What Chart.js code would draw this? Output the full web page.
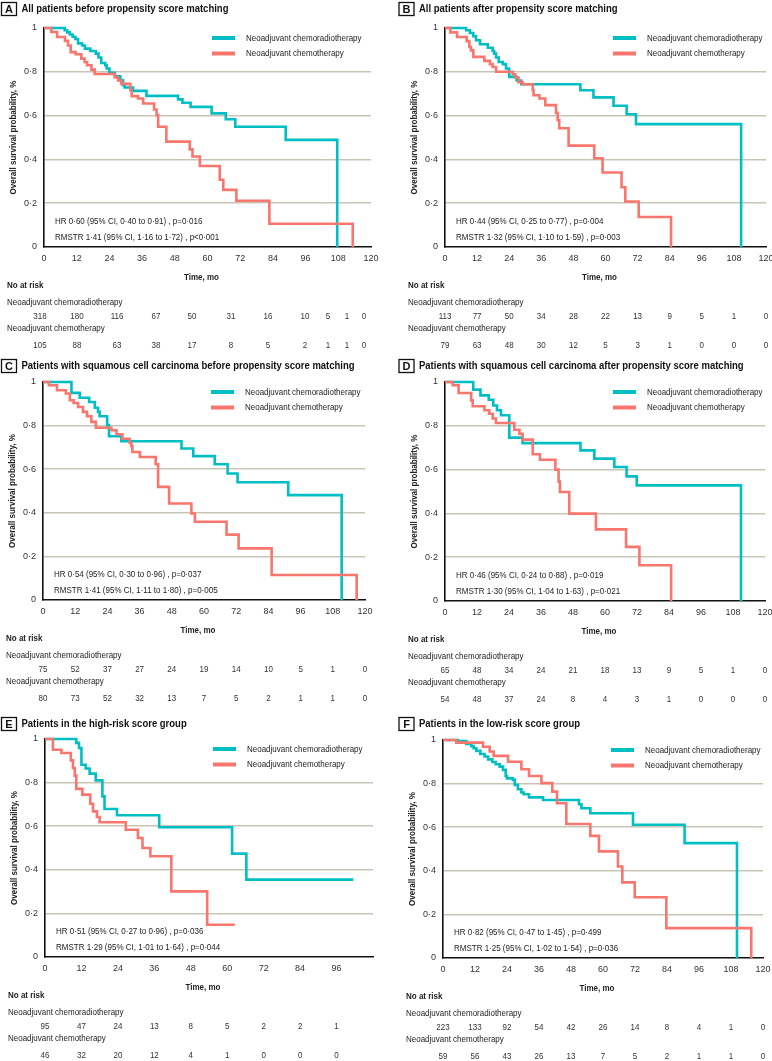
<!DOCTYPE html>
<html>
<head>
<meta charset="utf-8">
<script src="https://cdn.jsdelivr.net/npm/chart.js@4.4.1/dist/chart.umd.min.js"></script>
<style>
  body { margin: 0; background: #fff; }
  #wrap { position: relative; width: 772px; height: 1061px; overflow: hidden; }
  #wrap canvas { position: absolute; }
</style>
</head>
<body>
<div id="wrap"></div>
<script>
// series names + at-risk time columns
const groups = ['Neoadjuvant chemoradiotherapy', 'Neoadjuvant chemotherapy'];
const riskTimes = [0, 12, 24, 36, 48, 60, 72, 84, 96, 108, 120];

// A - all patients before psm
const timeA_crt = [0, 7.6, 8.5, 9.5, 10.5, 11.5, 12.5, 14, 15, 17, 19, 20, 21, 22.5, 23, 24, 26, 28, 29, 29.6, 32.7, 37.6, 49.2, 50.8, 53.8, 61.5, 66.7, 70.2, 88.7, 107.6];
const survA_crt = [1, 0.99, 0.98, 0.97, 0.96, 0.95, 0.93, 0.92, 0.906, 0.895, 0.883, 0.865, 0.84, 0.83, 0.815, 0.795, 0.78, 0.762, 0.739, 0.728, 0.713, 0.69, 0.674, 0.659, 0.64, 0.61, 0.583, 0.549, 0.489, 0];
const timeA_ct = [0, 2.7, 4.8, 7.7, 8.8, 9.8, 11.6, 13.7, 14.9, 15.8, 17.4, 18.6, 26, 27.2, 28.4, 31.7, 32.2, 34.5, 36.4, 40.4, 41.3, 41.9, 44.9, 53.5, 54.5, 57.2, 64.5, 65.8, 70.6, 82.7, 113.3];
const survA_ct = [1, 0.982, 0.959, 0.941, 0.92, 0.89, 0.88, 0.86, 0.845, 0.83, 0.81, 0.79, 0.774, 0.76, 0.745, 0.716, 0.689, 0.678, 0.655, 0.628, 0.602, 0.549, 0.481, 0.446, 0.413, 0.37, 0.307, 0.261, 0.211, 0.106, 0];
const riskA_crt = [318, 180, 116, 67, 50, 31, 16, 10, 5, 1, 0];
const riskA_ct = [105, 88, 63, 38, 17, 8, 5, 2, 1, 1, 0];

// B - all patients after psm
const timeB_crt = [0, 7.9, 9.3, 10.6, 11.6, 13.1, 16, 17.8, 18.4, 19.1, 20.1, 21.6, 22.8, 24, 26.8, 28.5, 50.6, 55.5, 63, 67.9, 71.4, 110.7];
const survB_crt = [1, 0.99, 0.977, 0.962, 0.944, 0.926, 0.91, 0.895, 0.883, 0.865, 0.845, 0.835, 0.815, 0.777, 0.76, 0.743, 0.716, 0.683, 0.645, 0.606, 0.561, 0];
const timeB_ct = [0, 2, 4.5, 8.1, 9.1, 9.7, 10.6, 14.7, 16.8, 17.8, 19.1, 25.3, 26.3, 27.5, 29, 32.8, 33.1, 35.3, 37.5, 41.5, 42.1, 42.7, 46.2, 55.8, 58.9, 66, 67.4, 72.4, 84.5];
const survB_ct = [1, 0.98, 0.959, 0.94, 0.913, 0.898, 0.868, 0.85, 0.835, 0.822, 0.8, 0.789, 0.774, 0.753, 0.743, 0.716, 0.693, 0.678, 0.648, 0.613, 0.58, 0.542, 0.463, 0.405, 0.34, 0.273, 0.208, 0.137, 0];
const riskB_crt = [113, 77, 50, 34, 28, 22, 13, 9, 5, 1, 0];
const riskB_ct = [79, 63, 48, 30, 12, 5, 3, 1, 0, 0, 0];

// C - squamous before psm
const timeC_crt = [0, 10.6, 13.7, 17.2, 19.3, 20.5, 21.1, 23.9, 24.6, 29.2, 51.6, 56, 64, 68.8, 72.5, 91.4, 111.3];
const survC_crt = [1, 0.95, 0.928, 0.908, 0.882, 0.863, 0.843, 0.802, 0.751, 0.728, 0.695, 0.66, 0.623, 0.58, 0.54, 0.481, 0];
const timeC_ct = [0, 2.2, 5.2, 8.5, 10, 11.4, 13.1, 14.9, 16.4, 18, 19.7, 25.5, 27.4, 29.6, 32.3, 32.9, 33.3, 36.1, 42, 42.9, 47, 55.3, 56.6, 68.4, 72.9, 85.2, 116.9];
const survC_ct = [1, 0.985, 0.962, 0.947, 0.916, 0.904, 0.885, 0.863, 0.843, 0.817, 0.79, 0.779, 0.76, 0.74, 0.72, 0.707, 0.679, 0.656, 0.623, 0.519, 0.443, 0.397, 0.359, 0.3, 0.237, 0.115, 0];
const riskC_crt = [75, 52, 37, 27, 24, 19, 14, 10, 5, 1, 0];
const riskC_ct = [80, 73, 52, 32, 13, 7, 5, 2, 1, 1, 0];

// D - squamous after psm
const timeD_crt = [0, 10.6, 13.3, 16.4, 18.1, 19.5, 21, 24.1, 29.1, 50.8, 56, 63.5, 68.1, 71.9, 111];
const survD_crt = [1, 0.965, 0.939, 0.919, 0.893, 0.871, 0.848, 0.746, 0.721, 0.688, 0.65, 0.612, 0.569, 0.528, 0];
const timeD_ct = [0, 2.9, 5.1, 9.8, 10.4, 14.8, 16.6, 17.9, 19.1, 26, 27.9, 29.1, 32.9, 35.6, 41.4, 42.6, 43.1, 46.6, 56.6, 67.9, 72.9, 84.8];
const survD_ct = [1, 0.985, 0.95, 0.916, 0.889, 0.871, 0.855, 0.833, 0.813, 0.782, 0.764, 0.737, 0.67, 0.645, 0.6, 0.545, 0.498, 0.399, 0.327, 0.247, 0.163, 0];
const riskD_crt = [65, 48, 34, 24, 21, 18, 13, 9, 5, 1, 0];
const riskD_ct = [54, 48, 37, 24, 8, 4, 3, 1, 0, 0, 0];

// E - high-risk score group
const timeE_crt = [0, 10.3, 11.2, 12, 13.4, 14.7, 16.7, 18.9, 19.6, 23.7, 37.6, 61.6, 66.3, 101.5];
const survE_crt = [1, 0.982, 0.959, 0.882, 0.865, 0.841, 0.81, 0.737, 0.679, 0.65, 0.595, 0.474, 0.355, 0.355];
const timeE_ct = [0, 2.6, 5.4, 8.5, 9.2, 9.8, 10.3, 12.3, 14.9, 15.8, 17.1, 18, 26.6, 30.6, 32.1, 34.7, 41.6, 53.4, 62.5];
const survE_ct = [1, 0.951, 0.936, 0.902, 0.867, 0.832, 0.771, 0.745, 0.703, 0.668, 0.642, 0.618, 0.584, 0.546, 0.5, 0.462, 0.301, 0.148, 0.148];
const riskE_crt = [95, 47, 24, 13, 8, 5, 2, 2, 1];
const riskE_ct = [46, 32, 20, 12, 4, 1, 0, 0, 0];

// F - low-risk score group
const timeF_crt = [0, 5.6, 8.75, 10.6, 11.5, 12.5, 14, 15.6, 16.9, 18.5, 19.75, 21.25, 22.5, 23.5, 24, 26.25, 26.9, 28.1, 29.4, 30.25, 32.25, 37.5, 51, 51.9, 55.25, 71.25, 90.6, 110.25];
const survF_crt = [1, 0.995, 0.982, 0.972, 0.962, 0.95, 0.936, 0.924, 0.911, 0.899, 0.889, 0.878, 0.863, 0.835, 0.824, 0.817, 0.794, 0.774, 0.759, 0.751, 0.737, 0.725, 0.705, 0.687, 0.664, 0.611, 0.527, 0];
const timeF_ct = [0, 5, 15, 17.5, 19, 24.4, 29.4, 32.25, 36.9, 41, 42.75, 46.25, 55.25, 58.5, 65.6, 67.25, 71.9, 83.75, 115.6];
const survF_ct = [1, 0.988, 0.969, 0.947, 0.927, 0.9, 0.866, 0.835, 0.802, 0.763, 0.71, 0.615, 0.56, 0.489, 0.42, 0.347, 0.279, 0.137, 0];
const riskF_crt = [223, 133, 92, 54, 42, 26, 14, 8, 4, 1, 0];
const riskF_ct = [59, 56, 43, 26, 13, 7, 5, 2, 1, 1, 0];

const TEAL = '#00BFC4';
const RED = '#F8766D';
const GRID = '#C9C5B6';
const FONT = '"Liberation Sans", Arial, Helvetica, sans-serif';
const SX = 0.86; // text in the figure is a bit narrower than arial
const CANVAS_H = 362; // canvases overlap a little, background is transparent

// panel layout (page px)
const panels = [
  { tag: 'A', title: 'All patients before propensity score matching', x: 0, y: 0, titleY: 9,
    area: { left: 44, right: 371, top: 28, bottom: 247 }, xMax: 120, tickMax: 120,
    crt: [timeA_crt, survA_crt], ct: [timeA_ct, survA_ct], risk: [riskA_crt, riskA_ct],
    riskX: [-4, 33, 73, 112, 148, 187, 224, 261, 284, 303, 320], // this table is not spaced like the ticks
    stats: ['HR 0·60 (95% CI, 0·40 to 0·91) , p=0·016', 'RMSTR 1·41 (95% CI, 1·16 to 1·72) , p<0·001'] },
  { tag: 'B', title: 'All patients after propensity score matching', x: 386, y: 0, titleY: 9,
    area: { left: 445, right: 766, top: 28, bottom: 247 }, xMax: 120, tickMax: 120,
    crt: [timeB_crt, survB_crt], ct: [timeB_ct, survB_ct], risk: [riskB_crt, riskB_ct],
    stats: ['HR 0·44 (95% CI, 0·25 to 0·77) , p=0·004', 'RMSTR 1·32 (95% CI, 1·10 to 1·59) , p=0·003'] },
  { tag: 'C', title: 'Patients with squamous cell carcinoma before propensity score matching', x: 0, y: 350, titleY: 366,
    area: { left: 43, right: 365, top: 382, bottom: 600 }, xMax: 120, tickMax: 120,
    crt: [timeC_crt, survC_crt], ct: [timeC_ct, survC_ct], risk: [riskC_crt, riskC_ct],
    stats: ['HR 0·54 (95% CI, 0·30 to 0·96) , p=0·037', 'RMSTR 1·41 (95% CI, 1·11 to 1·80) , p=0·005'] },
  { tag: 'D', title: 'Patients with squamous cell carcinoma after propensity score matching', x: 386, y: 350, titleY: 366,
    area: { left: 445, right: 765, top: 382, bottom: 601 }, xMax: 120, tickMax: 120,
    crt: [timeD_crt, survD_crt], ct: [timeD_ct, survD_ct], risk: [riskD_crt, riskD_ct],
    stats: ['HR 0·46 (95% CI, 0·24 to 0·88) , p=0·019', 'RMSTR 1·30 (95% CI, 1·04 to 1·63) , p=0·021'] },
  { tag: 'E', title: 'Patients in the high-risk score group', x: 0, y: 700, titleY: 724,
    area: { left: 45, right: 373, top: 739, bottom: 957 }, xMax: 108, tickMax: 96,
    crt: [timeE_crt, survE_crt], ct: [timeE_ct, survE_ct], risk: [riskE_crt, riskE_ct],
    stats: ['HR 0·51 (95% CI, 0·27 to 0·96) , p=0·036', 'RMSTR 1·29 (95% CI, 1·01 to 1·64) , p=0·044'] },
  { tag: 'F', title: 'Patients in the low-risk score group', x: 386, y: 700, titleY: 724,
    area: { left: 443, right: 763, top: 740, bottom: 958 }, xMax: 120, tickMax: 120,
    crt: [timeF_crt, survF_crt], ct: [timeF_ct, survF_ct], risk: [riskF_crt, riskF_ct],
    stats: ['HR 0·82 (95% CI, 0·47 to 1·45) , p=0·499', 'RMSTR 1·25 (95% CI, 1·02 to 1·54) , p=0·036'] }
];

function toPts(pair) { // [times, surv] -> points
  return pair[0].map((t, i) => ({ x: t, y: pair[1][i] }));
}

function txt(ctx, s, x, y, o) {
  ctx.save();
  ctx.font = (o.bold ? 'bold ' : '') + o.size + 'px ' + FONT;
  ctx.fillStyle = o.color || '#222';
  ctx.textBaseline = 'middle';
  ctx.textAlign = o.align || 'left';
  ctx.translate(x, y);
  if (o.rot) ctx.rotate(-Math.PI / 2);
  ctx.scale(o.sx || SX, 1);
  ctx.fillText(s, 0, 0);
  ctx.restore();
}

// everything that is not axes / curves
function panelText(p) {
  return {
    id: 'panelText' + p.tag,
    afterDraw(chart) {
      const ctx = chart.ctx;
      const ca = chart.chartArea;
      const xs = chart.scales.x;

      // title + letter box
      const bx = p.x === 0 ? 1.5 : 13;
      const ty = p.titleY - p.y;
      ctx.save();
      ctx.strokeStyle = '#111';
      ctx.lineWidth = 1.3;
      ctx.strokeRect(bx, ty - 6.5, 15, 13);
      ctx.restore();
      txt(ctx, p.tag, bx + 7.5, ty + 0.5, { size: 11, bold: true, align: 'center', sx: 1, color: '#111' });
      txt(ctx, p.title, bx + 20, ty, { size: 10, bold: true, sx: 0.95, color: '#111' });

      // y title
      txt(ctx, 'Overall survival probability, %', ca.left - 30, (ca.top + ca.bottom) / 2,
        { size: 9, bold: true, rot: true, align: 'center', sx: 0.89 });

      // legend
      [TEAL, RED].forEach((c, i) => {
        const ly = ca.top + 10 + i * 15.5;
        ctx.save();
        ctx.strokeStyle = c;
        ctx.lineWidth = 4;
        ctx.beginPath();
        ctx.moveTo(ca.left + 168, ly);
        ctx.lineTo(ca.left + 191, ly);
        ctx.stroke();
        ctx.restore();
        txt(ctx, groups[i], ca.left + 202, ly, { size: 9.3 });
      });

      // hr / rmstr
      txt(ctx, p.stats[0], ca.left + 11, ca.bottom - 26, { size: 9.3 });
      txt(ctx, p.stats[1], ca.left + 11, ca.bottom - 10, { size: 9.3 });

      // at-risk table
      const b = ca.bottom;
      txt(ctx, 'Time, mo', (ca.left + ca.right) / 2 - 6, b + 30, { size: 9.3, bold: true, align: 'center' });
      txt(ctx, 'No at risk', ca.left - 37, b + 38, { size: 9.3, bold: true });
      const rowY = [[b + 55, b + 69], [b + 81, b + 98]];
      p.risk.forEach((row, g) => {
        txt(ctx, groups[g], ca.left - 37, rowY[g][0], { size: 9.3 });
        row.forEach((n, i) => {
          const cx = p.riskX ? ca.left + p.riskX[i] : xs.getPixelForValue(riskTimes[i]);
          txt(ctx, String(n), cx, rowY[g][1], { size: 9.3, align: 'center', color: '#333' });
        });
      });
    }
  };
}

function makePanel(p) {
  const cv = document.createElement('canvas');
  cv.width = 386;
  cv.height = CANVAS_H;
  cv.style.left = p.x + 'px';
  cv.style.top = p.y + 'px';
  document.getElementById('wrap').appendChild(cv);
  const a = p.area;

  new Chart(cv, {
    type: 'line',
    data: {
      datasets: [
        { label: groups[0], data: toPts(p.crt), borderColor: TEAL, order: 1 },
        { label: groups[1], data: toPts(p.ct), borderColor: RED, order: 0 }
      ]
    },
    options: {
      responsive: false,
      animation: false,
      devicePixelRatio: 1,
      layout: { padding: { left: 0, top: a.top - p.y, right: p.x + 386 - a.right, bottom: p.y + CANVAS_H - a.bottom - 20 } },
      datasets: { line: { stepped: true, borderWidth: 2.6, pointRadius: 0, fill: false, clip: false } },
      plugins: { legend: { display: false }, tooltip: { enabled: false } },
      scales: {
        x: {
          type: 'linear', min: 0, max: p.xMax,
          afterFit: s => { s.height = 20; s.paddingLeft = 0; s.paddingRight = 0; },
          grid: { display: false, drawTicks: false },
          border: { display: true, color: '#111', width: 1.6 },
          ticks: {
            stepSize: 12, padding: 6, autoSkip: false, maxRotation: 0, color: '#333',
            font: { family: FONT, size: 9 },
            callback: v => (v > p.tickMax ? '' : v)
          }
        },
        y: {
          min: 0, max: 1,
          afterFit: s => { s.width = a.left - p.x; s.paddingTop = 0; s.paddingBottom = 0; },
          grid: {
            drawTicks: false, lineWidth: 1.5,
            color: c => (c.tick && c.tick.value > 0.01 && c.tick.value < 0.99 ? GRID : 'rgba(0,0,0,0)')
          },
          border: { display: true, color: '#111', width: 1.6 },
          ticks: {
            stepSize: 0.2, padding: 7, color: '#333',
            font: { family: FONT, size: 9 },
            callback: v => (v < 0.01 ? '0' : v > 0.99 ? '1' : v.toFixed(1).replace('.', '\u00b7'))
          }
        }
      }
    },
    plugins: [panelText(p)]
  });
}

panels.forEach(makePanel);
</script>
</body>
</html>
